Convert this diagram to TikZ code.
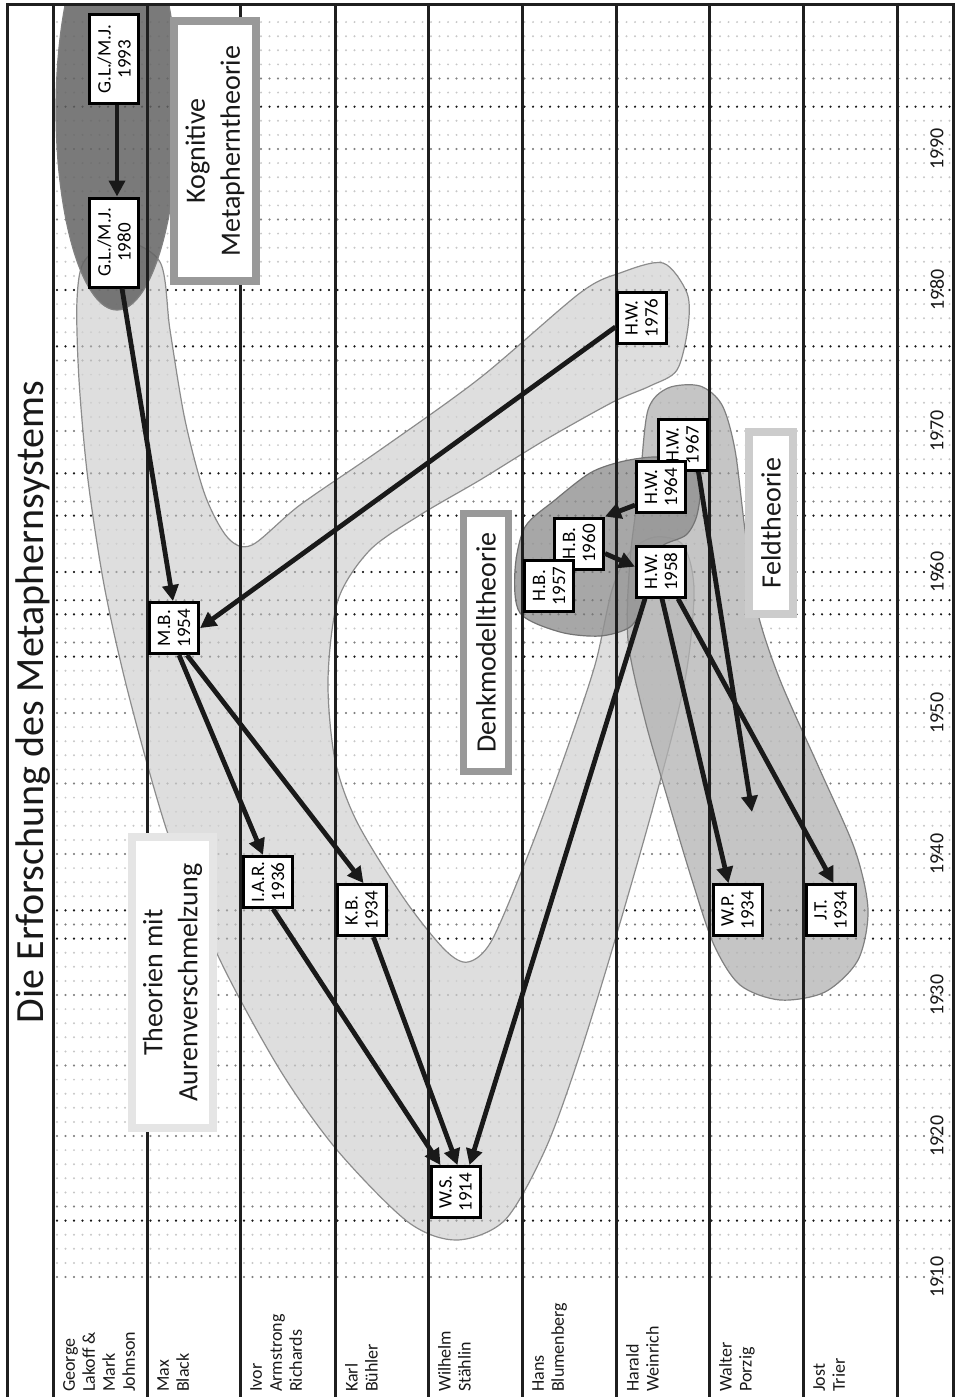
\documentclass[tikz,border=0pt]{standalone}
\usepackage{fontspec}
\setmainfont{Carlito}
\usetikzlibrary{arrows.meta}
\begin{document}
\begin{tikzpicture}[x=1pt,y=-1pt,
  declare function={yr(\t)=1277-(\t-1910)*14.1;},
  dotlight/.style={line width=2.2pt, line cap=round, dash pattern=on 0pt off 8.5pt, draw=black!22},
  dotmid/.style={line width=2.2pt, line cap=round, dash pattern=on 0pt off 8.5pt, draw=black!50},
  dotblack/.style={line width=2.4pt, line cap=round, dash pattern=on 0pt off 8.5pt, draw=black!90},
  colline/.style={line width=3pt, draw=black!88},
  lightblob/.style={fill=black!18, fill opacity=0.71, draw=black!45, line width=1.2pt},
  feldblob/.style={fill=black!30, fill opacity=0.75, draw=black!50, line width=1.2pt},
  denkblob/.style={fill=black!43, fill opacity=0.8, draw=black!55, line width=1.2pt},
  kogblob/.style={fill=black!61, fill opacity=0.85, draw=black!50, line width=1.2pt},
  yb/.style={draw=black, line width=3pt, fill=white, rotate=90, minimum width=51pt,
    minimum height=49pt, inner sep=1pt, align=center, font=\fontsize{19}{20}\selectfont, anchor=west},
  arr/.style={line width=4.8pt, draw=black!90, -{Triangle[length=16pt,width=16pt]}},
  lbl/.style={rotate=90, fill=white, align=center, font=\fontsize{28}{35}\selectfont, inner sep=0pt, text=black!90},
  namelbl/.style={rotate=90, anchor=north west, align=left, inner sep=0pt, font=\fontsize{18}{20}\selectfont, text=black!90},
  yearlbl/.style={rotate=90, inner sep=0pt, font=\fontsize{20}{22}\selectfont, text=black!90}
]
\useasboundingbox (0,0) rectangle (954,1397);

% dotted year lines
\foreach \t in {1910,...,1999} \draw[dotlight] (57,{yr(\t)}) -- (953,{yr(\t)});
\foreach \t in {1910,1915,...,1995} \draw[dotmid] (57,{yr(\t)}) -- (953,{yr(\t)});
\foreach \t in {1914,1934,1936,1954,1957,1958,1960,1964,1967,1976,1980,1993}
  \draw[dotblack] (57,{yr(\t)}) -- (953,{yr(\t)});

% blobs
\draw[lightblob] plot[smooth cycle] coordinates {
 (120,240) (160,262) (170,330) (185,420) (205,495) (228,538) (252,545) (300,505) (380,450)
 (480,378) (580,293) (620,273) (663,263) (687,293) (688,327) (677,370) (650,386) (613,402)
 (545,440) (480,480) (420,515) (370,550) (338,600) (328,680) (335,760) (357,822) (405,900)
 (445,950) (468,962) (492,940) (530,850) (565,755) (595,665) (612,590) (630,552) (655,537)
 (683,545) (694,590) (685,680) (655,800) (615,940) (578,1060) (545,1150) (505,1220) (457,1240)
 (408,1222) (337,1150) (280,1070) (220,960) (170,840) (130,700) (105,590) (88,480) (79,380)
 (77,300) (85,260)};
\draw[feldblob] plot[smooth cycle] coordinates {
 (648,410) (668,388) (700,386) (722,405) (735,450) (745,530) (757,610) (780,680) (820,770)
 (855,850) (868,910) (858,960) (825,992) (780,1000) (740,985) (714,945) (692,880) (668,800)
 (645,720) (628,640) (630,560) (640,480)};
\draw[denkblob] plot[smooth cycle] coordinates {
 (520,613) (515,570) (525,527) (555,500) (590,473) (620,462) (653,457) (685,460) (700,482)
 (697,515) (686,535) (662,546) (646,568) (642,605) (630,627) (600,636) (560,632)};
\begin{scope}
  \clip (7,5) rectangle (954,1397);
  \draw[kogblob] (117,110) ellipse [x radius=61, y radius=200];
\end{scope}

% column lines and frame
\foreach \x in {53,147,240,335,428,522,616,709,803,897} \draw[colline] (\x,5) -- (\x,1397);
\draw[colline] (7,1397) -- (7,5) -- (953,5) -- (953,1397);

% title
\node[rotate=90, anchor=base, font=\fontsize{40}{48}\selectfont, text=black!90] (title) at (43,702)
  {Die Erforschung des Metaphernsystems};

% names
\node[namelbl] (n1) at (63,1392) {George\\Lakoff \&\\Mark\\Johnson};
\node[namelbl] (n2) at (157,1392) {Max\\Black};
\node[namelbl] (n3) at (250,1392) {Ivor\\Armstrong\\Richards};
\node[namelbl] (n4) at (345,1392) {Karl\\Bühler};
\node[namelbl] (n5) at (438,1392) {Wilhelm\\Stählin};
\node[namelbl] (n6) at (532,1392) {Hans\\Blumenberg};
\node[namelbl] (n7) at (626,1392) {Harald\\Weinrich};
\node[namelbl] (n8) at (719,1392) {Walter\\Porzig};
\node[namelbl] (n9) at (813,1392) {Jost\\Trier};

% year labels
\foreach \t in {1910,1920,...,1990} \node[yearlbl] (y\t) at (937,{yr(\t)}) {\t};

% label boxes
\node[lbl, draw=black!40, line width=8pt, minimum width=260pt, minimum height=82pt] (kog) at (215,151)
  {Kognitive\\Metapherntheorie};
\node[lbl, draw=black!40, line width=7pt, minimum width=258pt, minimum height=45pt] (denk) at (486,642.5)
  {Denkmodelltheorie};
\node[lbl, draw=black!20, line width=8pt, minimum width=182pt, minimum height=44pt] (feld) at (771,523)
  {Feldtheorie};
\node[lbl, draw=black!10, line width=8pt, minimum width=291pt, minimum height=81pt] (theo) at (172.5,982.5)
  {Theorien mit\\Aurenverschmelzung};

% year boxes
\node[yb, minimum width=89pt] (gla) at (114,{yr(1993)-1.5}) {G.L./M.J.\\1993};
\node[yb, minimum width=89pt] (glb) at (114,{yr(1980)-1.5}) {G.L./M.J.\\1980};
\node[yb] (mb) at (174,{yr(1954)-1.5}) {M.B.\\1954};
\node[yb] (iar) at (268,{yr(1936)-1.5}) {I.A.R.\\1936};
\node[yb] (kb) at (361.5,{yr(1934)-1.5}) {K.B.\\1934};
\node[yb] (ws) at (455.5,{yr(1914)-1.5}) {W.S.\\1914};
\node[yb] (hw76) at (641.5,{yr(1976)-1.5}) {H.W.\\1976};
\node[yb] (hw58) at (661,{yr(1958)-1.5}) {H.W.\\1958};
\node[yb] (hw67) at (682.5,{yr(1967)-1.5}) {H.W.\\1967};
\node[yb] (hw64) at (661,{yr(1964)-1.5}) {H.W.\\1964};
\node[yb] (hb60) at (579,{yr(1960)-1.5}) {H.B.\\1960};
\node[yb] (hb57) at (549,{yr(1957)-1.5}) {H.B.\\1957};
\node[yb] (wp) at (737.5,{yr(1934)-1.5}) {W.P.\\1934};
\node[yb] (jt) at (830.5,{yr(1934)-1.5}) {J.T.\\1934};

\coordinate (fe) at (752,812);

% arrows
\draw[arr] ([xshift=3pt]gla.west) -- ([xshift=3pt]glb.east);
\draw[arr] ([xshift=8pt]glb.west) -- ([xshift=-1pt]mb.east);
\draw[arr] ([yshift=-9pt]hw76.north) -- (mb.south);
\draw[arr] ([xshift=5pt]mb.west) -- ([xshift=-5pt]iar.east);
\draw[arr] ([xshift=13pt]mb.west) -- ([xshift=2pt]kb.east);
\draw[arr] ([xshift=5pt]iar.west) -- ([xshift=-15pt]ws.east);
\draw[arr] ([xshift=12pt]kb.west) -- ([xshift=2pt]ws.east);
\draw[arr] ([xshift=-16pt]hw58.west) -- ([xshift=14pt]ws.east);
\draw[arr] ([xshift=1pt]hw58.west) -- ([xshift=-9pt]wp.east);
\draw[arr] ([xshift=17pt]hw58.west) -- ([xshift=3pt]jt.east);
\draw[arr] ([xshift=16pt]hw67.west) -- (fe);
\draw[arr] ([yshift=-10pt]hb60.south) -- ([yshift=5pt]hw58.north);
\draw[arr] ([yshift=-18pt]hw64.north) -- (hb60.south east);
\end{tikzpicture}
\end{document}
